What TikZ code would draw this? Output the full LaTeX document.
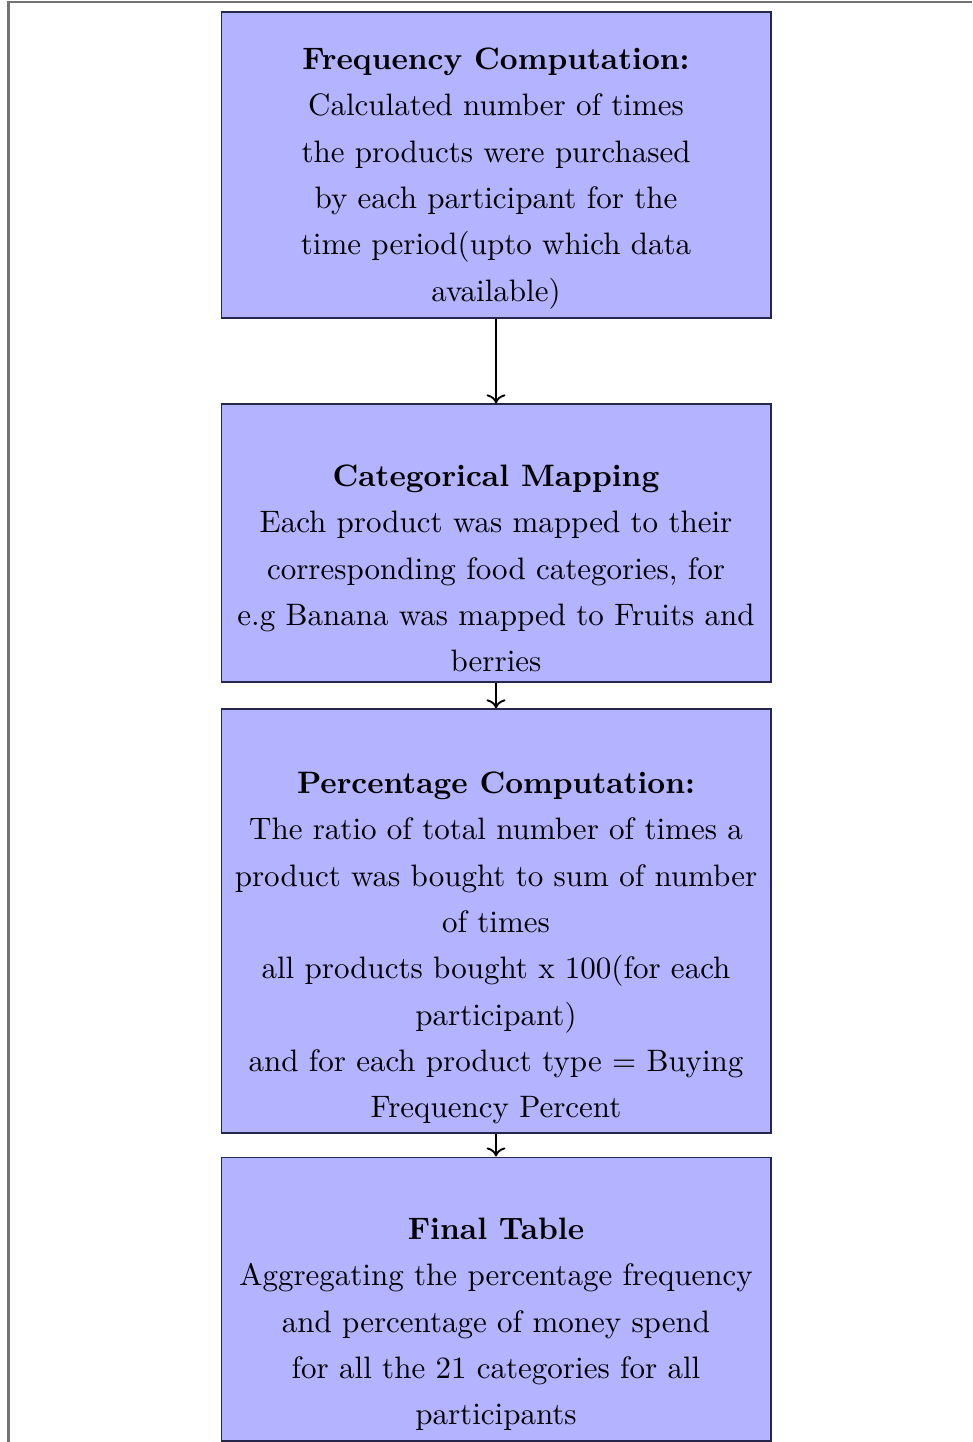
\documentclass[tikz,border=0pt]{standalone}
\usetikzlibrary{arrows.meta}
\definecolor{boxfill}{HTML}{B3B3FF}
\definecolor{boxline}{HTML}{26264D}
\tikzset{
  stagebox/.style={draw=boxline, fill=boxfill, line width=0.35pt, inner sep=0pt,
    minimum width=177.4pt},
  stagetext/.style={anchor=north, inner sep=0pt, align=center,
    font=\fontsize{10}{14.94}\selectfont},
  arr/.style={->, line width=0.6pt, black},
  frame/.style={draw=black!55, line width=0.65pt}
}
\begin{document}
\begin{tikzpicture}[x=0.3226pt, y=-0.3226pt]
\useasboundingbox (0,0) rectangle (972,1442);
\draw[frame] (972,2.5) -- (8.5,2.5) -- (8.5,1442);
% boxes
\node[stagebox, minimum height=98.7pt] (b1) at (496,165) {};
\node[stagebox, minimum height=89.7pt] (b2) at (496,543) {};
\node[stagebox, minimum height=136.8pt] (b3) at (496,921) {};
\node[stagebox, minimum height=91.6pt] (b4) at (496,1299) {};
% texts
\node[stagetext] (t1) at (496,38) {\rule{0pt}{10pt}\textbf{Frequency Computation:}\\
Calculated number of times\\
the products were purchased\\
by each participant for the\\
time period(upto which data\\
available)};
\node[stagetext] (t2) at (496,455) {\rule{0pt}{10pt}\textbf{Categorical Mapping}\\
Each product was mapped to their\\
corresponding food categories, for\\
e.g Banana was mapped to Fruits and\\
berries};
\node[stagetext] (t3) at (496,762) {\rule{0pt}{10pt}\textbf{Percentage Computation:}\\
The ratio of total number of times a\\
product was bought to sum of number\\
of times\\
all products bought x 100(for each\\
participant)\\
and for each product type $=$ Buying\\
Frequency Percent};
\node[stagetext] (t4) at (496,1208) {\rule{0pt}{10pt}\textbf{Final Table}\\
Aggregating the percentage frequency\\
and percentage of money spend\\
for all the 21 categories for all\\
participants};
% connectors
\draw[arr] (b1.south) -- (b2.north);
\draw[arr] (b2.south) -- (b3.north);
\draw[arr] (b3.south) -- (b4.north);
\end{tikzpicture}
\end{document}
